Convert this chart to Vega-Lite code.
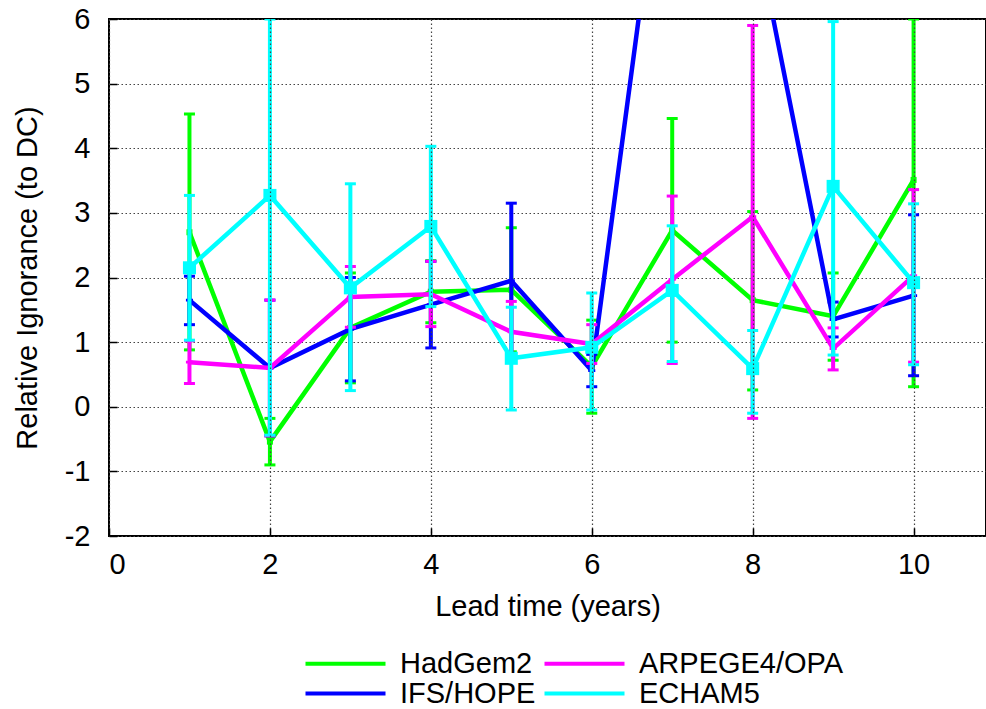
{
  "$schema": "https://vega.github.io/schema/vega-lite/v6.json",
  "width": 877,
  "height": 517,
  "autosize": {"type": "none"},
  "padding": {"left": 109, "top": 19, "right": 0, "bottom": 173},
  "background": "white",
  "config": {
    "font": "Liberation Sans",
    "view": {"stroke": "#000000", "strokeWidth": 2},
    "axis": {
      "domain": false,
      "grid": true,
      "gridColor": "#444444",
      "gridDash": [1.5, 2.5],
      "gridWidth": 1.2,
      "ticks": true,
      "tickSize": -8,
      "tickColor": "#000000",
      "tickWidth": 1.5,
      "labelFont": "Liberation Sans",
      "labelFontSize": 29,
      "labelColor": "#000000",
      "titleFont": "Liberation Sans",
      "titleFontSize": 29,
      "titleFontWeight": "normal",
      "titleColor": "#000000",
      "labelExpr": "'' + datum.value"
    },
    "legend": {
      "orient": "none",
      "legendX": 222,
      "legendY": 630,
      "columns": 2,
      "symbolType": "M-4,0H4",
      "symbolSize": 400,
      "symbolStrokeWidth": 4,
      "labelFont": "Liberation Sans",
      "labelFontSize": 29,
      "labelColor": "#000000",
      "labelLimit": 400,
      "rowPadding": 0,
      "columnPadding": 0,
      "labelOffset": 40
    }
  },
  "data": {
    "values": [
      {"model": "HadGem2", "t": 1, "v": 2.70, "lo": 0.88, "hi": 4.53},
      {"model": "HadGem2", "t": 2, "v": -0.54, "lo": -0.90, "hi": -0.18},
      {"model": "HadGem2", "t": 3, "v": 1.22, "lo": 0.37, "hi": 2.07},
      {"model": "HadGem2", "t": 4, "v": 1.78, "lo": 1.30, "hi": 2.26},
      {"model": "HadGem2", "t": 5, "v": 1.81, "lo": 0.85, "hi": 2.77},
      {"model": "HadGem2", "t": 6, "v": 0.62, "lo": -0.10, "hi": 1.34},
      {"model": "HadGem2", "t": 7, "v": 2.73, "lo": 1.00, "hi": 4.46},
      {"model": "HadGem2", "t": 8, "v": 1.65, "lo": 0.26, "hi": 3.02},
      {"model": "HadGem2", "t": 9, "v": 1.40, "lo": 0.72, "hi": 2.07},
      {"model": "HadGem2", "t": 10, "v": 3.51, "lo": 0.31, "hi": 6.0},
      {"model": "IFS/HOPE", "t": 1, "v": 1.65, "lo": 1.27, "hi": 2.02},
      {"model": "IFS/HOPE", "t": 2, "v": 0.60, "lo": -0.45, "hi": 1.65},
      {"model": "IFS/HOPE", "t": 3, "v": 1.20, "lo": 0.40, "hi": 2.00},
      {"model": "IFS/HOPE", "t": 4, "v": 1.58, "lo": 0.91, "hi": 2.25},
      {"model": "IFS/HOPE", "t": 5, "v": 1.95, "lo": 0.75, "hi": 3.15},
      {"model": "IFS/HOPE", "t": 6, "v": 0.56, "lo": 0.31, "hi": 0.81},
      {"model": "IFS/HOPE", "t": 7, "v": 9.9, "lo": 8.0, "hi": 11.8},
      {"model": "IFS/HOPE", "t": 8, "v": 7.6, "lo": 6.3, "hi": 8.9},
      {"model": "IFS/HOPE", "t": 9, "v": 1.35, "lo": 1.08, "hi": 1.62},
      {"model": "IFS/HOPE", "t": 10, "v": 1.72, "lo": 0.48, "hi": 2.97},
      {"model": "ARPEGE4/OPA", "t": 1, "v": 0.69, "lo": 0.36, "hi": 1.02},
      {"model": "ARPEGE4/OPA", "t": 2, "v": 0.60, "lo": -0.45, "hi": 1.65},
      {"model": "ARPEGE4/OPA", "t": 3, "v": 1.70, "lo": 1.23, "hi": 2.17},
      {"model": "ARPEGE4/OPA", "t": 4, "v": 1.74, "lo": 1.24, "hi": 2.25},
      {"model": "ARPEGE4/OPA", "t": 5, "v": 1.16, "lo": 0.69, "hi": 1.63},
      {"model": "ARPEGE4/OPA", "t": 6, "v": 0.97, "lo": 0.67, "hi": 1.27},
      {"model": "ARPEGE4/OPA", "t": 7, "v": 1.97, "lo": 0.67, "hi": 3.26},
      {"model": "ARPEGE4/OPA", "t": 8, "v": 2.94, "lo": -0.18, "hi": 5.90},
      {"model": "ARPEGE4/OPA", "t": 9, "v": 0.90, "lo": 0.57, "hi": 1.22},
      {"model": "ARPEGE4/OPA", "t": 10, "v": 2.03, "lo": 0.69, "hi": 3.36},
      {"model": "ECHAM5", "t": 1, "v": 2.15, "lo": 1.03, "hi": 3.27},
      {"model": "ECHAM5", "t": 2, "v": 3.27, "lo": -0.44, "hi": 6.0},
      {"model": "ECHAM5", "t": 3, "v": 1.84, "lo": 0.25, "hi": 3.45},
      {"model": "ECHAM5", "t": 4, "v": 2.79, "lo": 1.55, "hi": 4.03},
      {"model": "ECHAM5", "t": 5, "v": 0.75, "lo": -0.05, "hi": 1.54},
      {"model": "ECHAM5", "t": 6, "v": 0.92, "lo": -0.05, "hi": 1.76},
      {"model": "ECHAM5", "t": 7, "v": 1.80, "lo": 0.70, "hi": 2.80},
      {"model": "ECHAM5", "t": 8, "v": 0.59, "lo": -0.10, "hi": 1.18},
      {"model": "ECHAM5", "t": 9, "v": 3.41, "lo": 0.80, "hi": 5.96},
      {"model": "ECHAM5", "t": 10, "v": 1.92, "lo": 0.65, "hi": 3.14}
    ]
  },
  "encoding": {
    "x": {
      "field": "t",
      "type": "quantitative",
      "scale": {"domain": [0, 10.9], "nice": false, "zero": false},
      "axis": {"values": [0, 2, 4, 6, 8, 10], "title": "Lead time (years)", "labelPadding": 22, "titlePadding": 13, "zindex": 1}
    },
    "color": {
      "field": "model",
      "type": "nominal",
      "scale": {"domain": ["HadGem2", "IFS/HOPE", "ARPEGE4/OPA", "ECHAM5"], "range": ["#00ff00", "#0000ff", "#ff00ff", "#00ffff"]},
      "legend": {"title": null}
    }
  },
  "layer": [
    {
      "transform": [{"filter": "datum.model === 'HadGem2'"}],
      "layer": [
        {"mark": {"type": "rule", "strokeWidth": 4, "clip": true}, "encoding": {"y": {"field": "lo", "type": "quantitative", "scale": {"domain": [-2, 6], "nice": false, "zero": false}, "axis": {"values": [-2, -1, 0, 1, 2, 3, 4, 5, 6], "title": "Relative Ignorance (to DC)", "labelPadding": 27, "titlePadding": 22}}, "y2": {"field": "hi"}}},
        {"mark": {"type": "tick", "orient": "horizontal", "size": 11, "thickness": 3, "opacity": 1, "clip": true}, "encoding": {"y": {"field": "lo", "type": "quantitative"}}},
        {"mark": {"type": "tick", "orient": "horizontal", "size": 11, "thickness": 3, "opacity": 1, "clip": true}, "encoding": {"y": {"field": "hi", "type": "quantitative"}}},
        {"mark": {"type": "line", "strokeWidth": 4.5, "clip": true}, "encoding": {"y": {"field": "v", "type": "quantitative"}}},
        {"mark": {"type": "point", "shape": "square", "filled": true, "size": 36, "opacity": 1, "clip": true}, "encoding": {"y": {"field": "v", "type": "quantitative"}}}
      ]
    },
    {
      "transform": [{"filter": "datum.model === 'IFS/HOPE'"}],
      "layer": [
        {"mark": {"type": "rule", "strokeWidth": 4, "clip": true}, "encoding": {"y": {"field": "lo", "type": "quantitative"}, "y2": {"field": "hi"}}},
        {"mark": {"type": "tick", "orient": "horizontal", "size": 11, "thickness": 3, "opacity": 1, "clip": true}, "encoding": {"y": {"field": "lo", "type": "quantitative"}}},
        {"mark": {"type": "tick", "orient": "horizontal", "size": 11, "thickness": 3, "opacity": 1, "clip": true}, "encoding": {"y": {"field": "hi", "type": "quantitative"}}},
        {"mark": {"type": "line", "strokeWidth": 4.5, "clip": true}, "encoding": {"y": {"field": "v", "type": "quantitative"}}},
        {"mark": {"type": "point", "shape": "cross", "filled": true, "size": 50, "opacity": 1, "clip": true}, "encoding": {"y": {"field": "v", "type": "quantitative"}}}
      ]
    },
    {
      "transform": [{"filter": "datum.model === 'ARPEGE4/OPA'"}],
      "layer": [
        {"mark": {"type": "rule", "strokeWidth": 4, "clip": true}, "encoding": {"y": {"field": "lo", "type": "quantitative"}, "y2": {"field": "hi"}}},
        {"mark": {"type": "tick", "orient": "horizontal", "size": 11, "thickness": 3, "opacity": 1, "clip": true}, "encoding": {"y": {"field": "lo", "type": "quantitative"}}},
        {"mark": {"type": "tick", "orient": "horizontal", "size": 11, "thickness": 3, "opacity": 1, "clip": true}, "encoding": {"y": {"field": "hi", "type": "quantitative"}}},
        {"mark": {"type": "line", "strokeWidth": 4.5, "clip": true}, "encoding": {"y": {"field": "v", "type": "quantitative"}}},
        {"mark": {"type": "point", "shape": "cross", "filled": true, "size": 50, "opacity": 1, "clip": true}, "encoding": {"y": {"field": "v", "type": "quantitative"}}}
      ]
    },
    {
      "transform": [{"filter": "datum.model === 'ECHAM5'"}],
      "layer": [
        {"mark": {"type": "rule", "strokeWidth": 4, "clip": true}, "encoding": {"y": {"field": "lo", "type": "quantitative"}, "y2": {"field": "hi"}}},
        {"mark": {"type": "tick", "orient": "horizontal", "size": 11, "thickness": 3, "opacity": 1, "clip": true}, "encoding": {"y": {"field": "lo", "type": "quantitative"}}},
        {"mark": {"type": "tick", "orient": "horizontal", "size": 11, "thickness": 3, "opacity": 1, "clip": true}, "encoding": {"y": {"field": "hi", "type": "quantitative"}}},
        {"mark": {"type": "line", "strokeWidth": 4.5, "clip": true}, "encoding": {"y": {"field": "v", "type": "quantitative"}}},
        {"mark": {"type": "point", "shape": "square", "filled": true, "size": 170, "opacity": 1, "clip": true}, "encoding": {"y": {"field": "v", "type": "quantitative"}}}
      ]
    },
    {
      "data": {"values": [{"label": "Sahara"}]},
      "mark": {"type": "text", "align": "left", "baseline": "middle", "fontSize": 29, "font": "Liberation Sans"},
      "encoding": {
        "x": {"datum": 0.5, "type": "quantitative"},
        "y": {"datum": -1.2, "type": "quantitative"},
        "text": {"field": "label"},
        "color": {"value": "#000000"}
      }
    }
  ]
}
